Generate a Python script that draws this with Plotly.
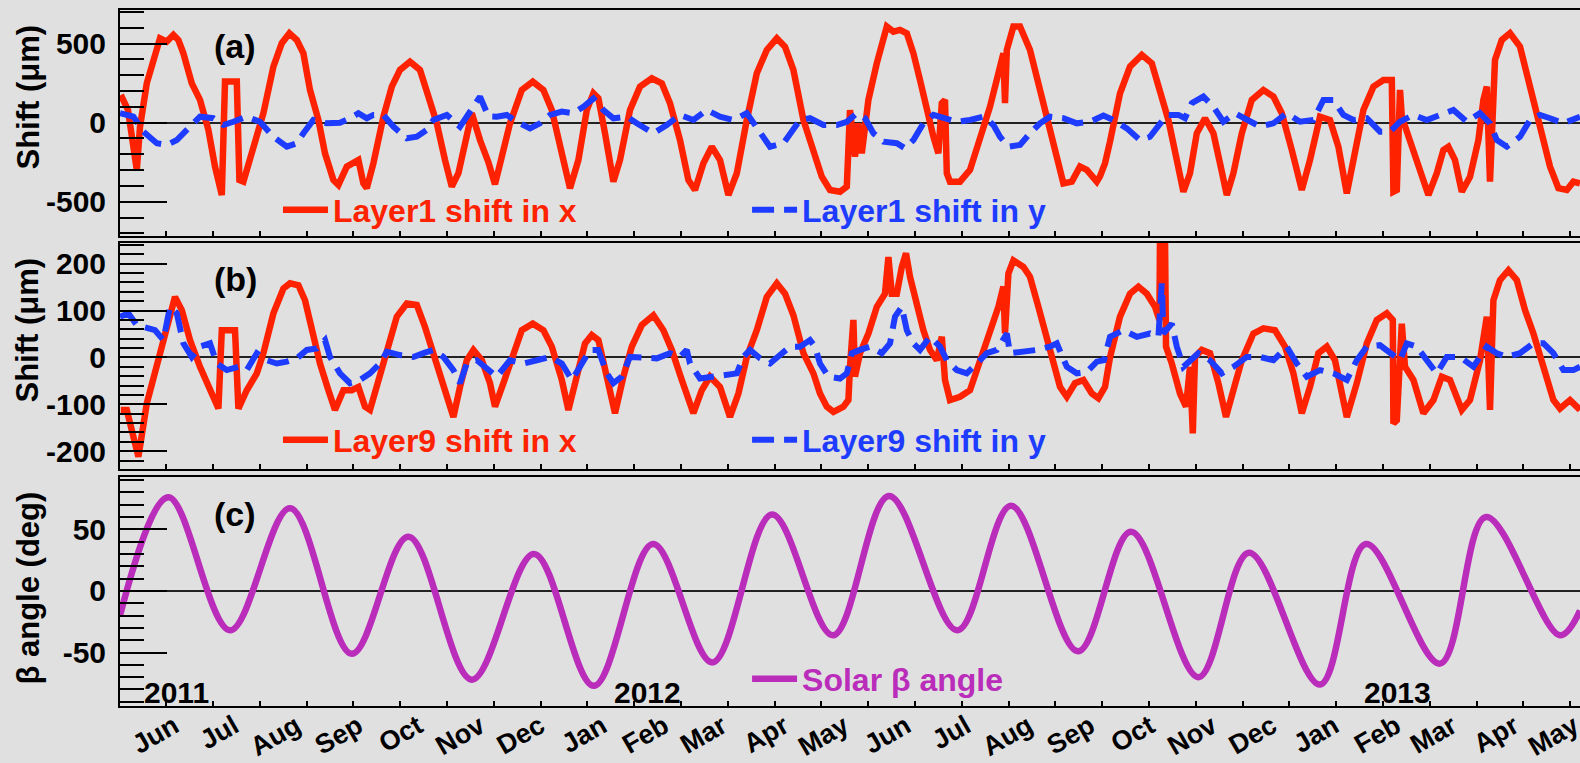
import pandas as pd
import plotly.graph_objects as go

FONT = "Liberation Sans"
BG = "#e0e0e0"
RED = "#ff2200"
BLUE = "#1e3cff"
PURPLE = "#ba2cba"

X_START = "2011-05-05"
X_END = "2013-05-04"

MONTH_TICKS = ["2011-06-01", "2011-07-01", "2011-08-01", "2011-09-01", "2011-10-01", "2011-11-01",
               "2011-12-01", "2012-01-01", "2012-02-01", "2012-03-01", "2012-04-01", "2012-05-01",
               "2012-06-01", "2012-07-01", "2012-08-01", "2012-09-01", "2012-10-01", "2012-11-01",
               "2012-12-01", "2013-01-01", "2013-02-01", "2013-03-01", "2013-04-01", "2013-05-01"]
MONTH_TEXT = ["Jun", "Jul", "Aug", "Sep", "Oct", "Nov", "Dec", "Jan", "Feb", "Mar", "Apr", "May",
              "Jun", "Jul", "Aug", "Sep", "Oct", "Nov", "Dec", "Jan", "Feb", "Mar", "Apr", "May"]
YEAR_LABELS = ["2011", "2012", "2013"]
YEAR_LABEL_DATES = ["2011-05-16", "2012-01-06", "2013-01-15"]

YA_TICKS = [-500, 0, 500]
YA_TEXT = ["-500", "0", "500"]
YB_TICKS = [-200, -100, 0, 100, 200]
YB_TEXT = ["-200", "-100", "0", "100", "200"]
YC_TICKS = [-50, 0, 50]
YC_TEXT = ["-50", "0", "50"]

# (days since X_START, value)
L1_X = [(0.4,175),(4,80),(8.4,-300),(10,-27),(13.4,250),(16.7,408),(20,534),(23.4,513),(26.7,555),(29.2,523),(31.7,439),(35.9,249),(40,144),(44.2,-46),(47.5,-278),(50.9,-458),(52.5,260),(58.4,260),(59.7,-363),(61.7,-373),(66.7,-152),(71.7,60),(76.7,355),(80.9,503),(84.7,566),(88.4,523),(91.7,439),(95,207),(99.2,17),(102.5,-194),(106.7,-363),(109.2,-394),(113.4,-278),(116.7,-257),(119.2,-236),(121.7,-384),(123.4,-415),(126.7,-257),(131.7,38),(135.9,228),(140,334),(145,386),(150,334),(154.2,165),(158.4,-4),(162.5,-236),(165.9,-405),(169.2,-320),(172.5,-110),(175.9,60),(180,-110),(184.2,-250),(187.5,-390),(191.5,-200),(195,-4),(200.9,207),(206.4,260),(211.7,207),(215.9,80),(220.9,-194),(225,-415),(229.2,-236),(233.4,80),(236.7,186),(239.2,154),(242.5,-67),(246.7,-373),(250,-236),(255,80),(260,228),(265.9,281),(270.9,249),(275,123),(280,-110),(284.2,-363),(287.5,-426),(291.7,-257),(295.9,-152),(300,-236),(304.2,-458),(308.4,-320),(313.4,17),(318.4,313),(323.4,460),(328.4,534),(332.5,481),(336.7,334),(341.7,17),(346.7,-173),(350.9,-342),(355,-426),(360,-437),(363.4,-405),(365,80),(367.5,-215),(369.2,-4),(370.9,-194),(374.2,144),(378.4,376),(383.4,608),(386.7,576),(390,587),(393.4,566),(396.7,439),(400,270),(403.4,80),(406.7,-89),(409.2,-194),(410.9,123),(412.5,144),(413.4,-320),(415,-373),(420,-373),(425,-299),(430,-110),(435,101),(439.2,313),(441.7,439),(442.5,123),(443.4,460),(446.7,608),(450,608),(455,460),(459.2,249),(463.4,38),(467.5,-194),(471.7,-384),(475.9,-373),(480,-278),(483.4,-299),(488.4,-373),(490,-340),(492.5,-257),(495,-120),(500,186),(505,355),(510.9,429),(515.9,376),(520,207),(524.2,17),(528.4,-236),(531.7,-437),(535,-320),(538.4,-67),(542.5,28),(546.7,-67),(550,-257),(553.4,-458),(556.7,-320),(560.9,-67),(565.9,144),(571.7,207),(576.7,165),(580.9,60),(585.9,-173),(590.9,-426),(595,-236),(600,38),(605,17),(609.2,-152),(613.4,-447),(617.5,-173),(621.7,80),(626.7,228),(631.7,270),(635.9,270),(636.7,-437),(638.4,-426),(640,207),(640.9,38),(645,-110),(650,-320),(654.2,-458),(658.4,-320),(661.7,-173),(664.2,-152),(667.5,-236),(670.9,-437),(675,-342),(679.2,-110),(681.7,144),(683.4,228),(685,-373),(687.5,397),(690.9,523),(695,566),(700,481),(705,228),(710,-25),(715,-278),(719.2,-415),(723.4,-426),(726.7,-373),(730,-384)]

L1_Y = [(0,60),(6.7,38),(11.7,-57),(18.4,-130),(23.4,-141),(28.4,-110),(33.4,-46),(40,38),(46.7,28),(51.7,-15),(56.7,6),(63.4,38),(70,6),(76.7,-89),(83.4,-152),(88.4,-130),(91.7,-67),(96.7,17),(103.4,-4),(110,0),(115,28),(119.2,60),(123.4,28),(126.7,49),(131.7,49),(136.7,-25),(143.4,-99),(148.4,-89),(153.4,-46),(156.7,17),(163.4,49),(170,-25),(176.7,101),(180,165),(184.2,40),(188.4,38),(193.4,49),(198.4,6),(205,-36),(210,-4),(215,49),(220.9,70),(226.7,60),(231.7,101),(236.7,154),(241.7,80),(246.7,28),(253.4,38),(258.4,-4),(266.7,-67),(273.4,-15),(280,49),(286.7,17),(293.4,80),(300,38),(306.7,17),(313.4,60),(318.4,-36),(325,-152),(331.7,-130),(336.7,-46),(340,17),(345,28),(351.7,-15),(358.4,-15),(363.4,6),(368.4,60),(372.5,28),(376.7,-67),(381.7,-120),(388.4,-130),(392.5,-162),(396.7,-110),(401.7,-4),(406.7,49),(411.7,28),(418.4,6),(425,17),(431.7,38),(436.7,-15),(440,-89),(444.2,-152),(450,-141),(455,-67),(460,-4),(465,38),(471.7,28),(478.4,-4),(485,6),(491.7,45),(496.7,17),(503.4,-36),(510,-110),(515,-89),(518.4,-36),(523.4,49),(529.2,49),(532.5,28),(535.9,123),(541.7,165),(546.7,101),(551.7,6),(557.5,60),(563.4,17),(570,-25),(576.7,-4),(583.4,60),(590,6),(596.7,17),(601.7,144),(606.7,144),(611.7,49),(616.7,17),(623.4,28),(630,-57),(635,-57),(640,6),(646.7,49),(653.4,17),(660,49),(666.7,80),(673.4,6),(680,60),(685,-4),(688.4,-110),(693.4,-152),(700,-89),(705,17),(710,49),(715,28),(721.7,-4),(730,38)]

L9_X = [(0.4,-112),(3.4,-112),(6.7,-169),(9.2,-212),(13.4,-98),(18.4,-13),(23.4,58),(27.5,129),(30.9,101),(35,37),(40,-20),(45,-70),(49.2,-109),(50.9,58),(57.5,58),(59.2,-109),(63.4,-70),(68.4,-34),(71.7,9),(76.7,94),(81.7,147),(85,158),(89.2,154),(92.5,122),(95.9,58),(100,-13),(104.2,-70),(107.5,-112),(111.7,-70),(115.9,-70),(119.2,-63),(122.5,-105),(125,-112),(128.4,-63),(133.4,16),(138.4,87),(143.4,115),(148.4,112),(152.5,65),(156.7,9),(161.7,-63),(166.7,-127),(170,-63),(173.4,-6),(176.7,16),(180.9,-6),(185,-55),(187.5,-105),(191.7,-55),(195.9,1),(200.9,58),(206.4,72),(211.7,58),(215.9,23),(220.9,-48),(224.2,-112),(228.4,-41),(232.5,30),(235.9,48),(239.2,37),(243.4,-41),(247.5,-119),(251.7,-41),(255.9,23),(260.9,69),(266.7,90),(271.7,58),(275.9,16),(280.9,-48),(286.7,-119),(290.9,-70),(295,-41),(300,-63),(305,-127),(309.2,-77),(313.4,1),(318.4,58),(323.4,129),(328.4,158),(332.5,136),(336.7,90),(341.7,9),(346.7,-34),(350,-77),(353.4,-105),(356.7,-116),(361.7,-105),(364.2,-91),(365,-20),(366.7,80),(367.5,-41),(370,9),(374.2,51),(378.4,108),(382.5,136),(384.2,214),(385.9,136),(388.4,136),(390.9,193),(393,222),(395,172),(398.4,108),(401.7,58),(405,16),(408.4,-6),(410.9,44),(412.5,-48),(415,-91),(420,-84),(425,-70),(430,-6),(435,51),(439.2,108),(441.7,151),(442.5,51),(444.2,179),(446.7,207),(451.7,193),(455,172),(459.2,108),(463.4,37),(466.7,-13),(470,-63),(473.4,-84),(477.5,-55),(481.7,-48),(485.9,-77),(489.2,-87),(492.5,-63),(495,0),(500,87),(505,136),(509.2,151),(513.4,136),(517.5,108),(519.7,80),(520,260),(522.5,260),(523,23),(525.9,-13),(530,-77),(533,-105),(535,-20),(536.4,-162),(537.5,1),(540.9,16),(545,9),(549.2,-55),(553,-127),(556.7,-70),(560.9,-6),(566.7,51),(571.7,62),(577.5,58),(582.5,23),(586.7,-34),(590.9,-119),(595,-63),(599.2,9),(603.4,23),(607.5,-6),(613.4,-127),(618.4,-55),(623.4,30),(628.4,80),(633.4,94),(636.4,80),(636.7,-141),(638.4,-134),(640.9,72),(642.5,-20),(646.7,-48),(651.7,-119),(656.7,-91),(660.9,-41),(665,-48),(670.9,-112),(675,-91),(680,-6),(683.4,87),(685,-112),(686.7,122),(690,165),(694.2,186),(698.4,165),(702.5,101),(706.7,51),(711.7,-20),(716.7,-91),(720,-109),(725,-91),(730,-112)]

L9_Y = [(0,87),(4.2,94),(8.4,69),(13.4,62),(17.5,58),(21.7,37),(25,108),(28.4,94),(31.7,30),(35.9,1),(40,23),(45,30),(48.4,-13),(53.4,-27),(59.2,-20),(63.4,-27),(68.4,9),(73.4,-6),(78.4,-13),(83.4,-9),(88.4,-2),(93.4,16),(98.4,19),(102.5,37),(105,1),(110,-34),(115,-55),(120,-48),(125,-34),(130,-13),(133.4,12),(140,5),(146.7,1),(151.7,9),(156.7,16),(161.7,1),(166.7,-27),(170,-55),(173.4,-13),(178.4,-6),(183.4,-25),(188.4,-41),(195,-6),(201.7,-13),(208.4,-6),(215,1),(220.9,-13),(225.9,-48),(230,-20),(235,16),(239.2,16),(243.4,-34),(246.7,-55),(250.9,-41),(255,1),(261.7,1),(268.4,-2),(275,9),(280,1),(283.4,16),(285,-13),(290,-45),(296.7,-41),(303.4,-38),(308.4,-34),(311.7,1),(315,16),(320,-2),(325,-13),(330,5),(335,23),(340,23),(345,37),(347.5,23),(350,-13),(354.2,-41),(360,-45),(363.4,-34),(365.9,9),(370,16),(375,23),(380.9,9),(385,30),(387.5,87),(390.9,108),(393.4,58),(396.7,30),(400,16),(405,44),(410,23),(413.4,-6),(418.4,-27),(423.4,-34),(428.4,-13),(433.4,9),(438.4,16),(443.4,51),(445,9),(451.7,12),(458.4,16),(465,23),(468.4,30),(473.4,-20),(478.4,-34),(483.4,-31),(488.4,-9),(492,-6),(495,44),(501.7,58),(508.4,44),(515,51),(519.2,44),(520.9,158),(521.7,51),(525.9,72),(528.4,23),(531.7,-20),(535,-6),(539.2,9),(545,-6),(550.9,-34),(556.7,-20),(563.4,1),(570,1),(576.7,-6),(583.4,23),(588.4,-13),(593.4,-41),(600,-27),(606.7,-34),(613.4,-48),(618.4,-6),(623.4,23),(630,26),(635,9),(640,-6),(643.4,30),(648.4,23),(653.4,-6),(658.4,-34),(663.4,1),(670,1),(676.7,-20),(683.4,23),(688.4,9),(693.4,1),(700,9),(706.7,30),(711.7,30),(716.7,9),(721.7,-27),(726.7,-27),(730,-20)]

BETA = [(0,-20),(24.2,76),(55,-32),(85,67),(115.9,-51),(144.2,44),(175.9,-72),(207,30),(236.9,-77),(266.5,38),(296.2,-58),(326,62),(356.5,-36),(384.5,77),(418.7,-32),(445.5,69),(479,-49),(505.5,48),(539.2,-70),(564.5,31),(600,-76),(623,38),(660,-59),(683,60),(720,-36),(730,-16)]


def to_xy(pts):
    base = pd.Timestamp(X_START)
    xs = [base + pd.Timedelta(days=p[0]) for p in pts]
    ys = [p[1] for p in pts]
    return xs, ys


def bold(size, color="black"):
    return dict(family=FONT, size=size, color=color, weight="bold")


fig = go.Figure()

DASH = "22px,10px"
series = [
    (L1_X, "Layer1 shift in x", RED, "solid", "x", "y", "legend", 6.5, "linear"),
    (L1_Y, "Layer1 shift in y", BLUE, DASH, "x", "y", "legend4", 6, "linear"),
    (L9_X, "Layer9 shift in x", RED, "solid", "x2", "y2", "legend2", 6.5, "linear"),
    (L9_Y, "Layer9 shift in y", BLUE, DASH, "x2", "y2", "legend5", 6, "linear"),
    (BETA, "Solar \u03b2 angle", PURPLE, "solid", "x3", "y3", "legend3", 6.5, "spline"),
]
for pts, name, color, dash, xa, ya, leg, w, shape in series:
    xs, ys = to_xy(pts)
    line = dict(color=color, width=w, dash=dash, shape=shape)
    if shape == "spline":
        line["smoothing"] = 1.0
    fig.add_trace(go.Scatter(x=xs, y=ys, name=name, mode="lines", xaxis=xa, yaxis=ya,
                             legend=leg, line=line))

minor_x = dict(ticks="inside", ticklen=5, tickwidth=1.5, tickcolor="black",
               tick0="2011-06-20 12:00", dtick=23.4 * 86400000)

xcommon = dict(type="date", range=[X_START, X_END], showline=True, linecolor="black",
               linewidth=2, mirror=True, showgrid=False, zeroline=False, minor=minor_x,
               automargin=False)

fig.update_layout(
    xaxis=dict(xcommon, anchor="y", matches="x3", showticklabels=False, ticks=""),
    xaxis2=dict(xcommon, anchor="y2", matches="x3", showticklabels=False, ticks=""),
    xaxis3=dict(xcommon, anchor="y3", tickmode="array", tickvals=MONTH_TICKS,
                ticktext=MONTH_TEXT, ticks="", tickangle=-30, tickfont=bold(27),
                ticklabelstandoff=-8, ticklabeloverflow="allow"),
)

ycommon = dict(showline=True, linecolor="black", linewidth=2, mirror=False, showgrid=False,
               zeroline=True, zerolinecolor="#222222", zerolinewidth=2,
               ticks="inside", ticklen=47, tickwidth=2, tickcolor="black",
               tickfont=bold(30), ticklabelstandoff=6, tickmode="array", automargin=False)

fig.update_layout(
    yaxis=dict(ycommon, anchor="x", domain=[0.6753, 1.0], range=[-717, 713],
               tickvals=YA_TICKS, ticktext=YA_TEXT,
               minor=dict(ticks="inside", ticklen=24, tickwidth=2, tickmode="linear",
                          tick0=0, dtick=100, tickcolor="black")),
    yaxis2=dict(ycommon, anchor="x2", domain=[0.3405, 0.6652], range=[-238, 244],
                tickvals=YB_TICKS, ticktext=YB_TEXT,
                minor=dict(ticks="inside", ticklen=24, tickwidth=2, tickmode="linear",
                           tick0=0, dtick=20, tickcolor="black")),
    yaxis3=dict(ycommon, anchor="x3", domain=[0.0, 0.329], range=[-93.4, 92.4],
                tickvals=YC_TICKS, ticktext=YC_TEXT,
                minor=dict(ticks="inside", ticklen=24, tickwidth=2, tickmode="linear",
                           tick0=0, dtick=10, tickcolor="black")),
)


def legend_box(x, y, color):
    return dict(x=x, y=y, xanchor="left", yanchor="middle", orientation="h",
                bgcolor="rgba(0,0,0,0)", borderwidth=0, font=bold(32, color), itemwidth=45)


LEG_X_LEFT = 0.1082
LEG_X_RIGHT = 0.4295
fig.update_layout(
    legend=legend_box(LEG_X_LEFT, 0.7126, RED),
    legend4=legend_box(LEG_X_RIGHT, 0.7126, BLUE),
    legend2=legend_box(LEG_X_LEFT, 0.3822, RED),
    legend5=legend_box(LEG_X_RIGHT, 0.3822, BLUE),
    legend3=legend_box(LEG_X_RIGHT, 0.0388, PURPLE),
    showlegend=True,
)

annotations = []
for ref, lab in [("y", "(a)"), ("y2", "(b)"), ("y3", "(c)")]:
    annotations.append(dict(text=lab, xref="paper", x=0.063, xanchor="left",
                            yref=ref + " domain", y=0.84, yanchor="middle",
                            showarrow=False, font=bold(34)))
for ref, lab in [("y", "Shift (\u03bcm)"), ("y2", "Shift (\u03bcm)"), ("y3", "\u03b2 angle (deg)")]:
    annotations.append(dict(text=lab, xref="paper", x=-0.063, xanchor="center",
                            yref=ref + " domain", y=1.0, yanchor="top", yshift=-13,
                            textangle=-90, showarrow=False, font=bold(31)))
for d, lab in zip(YEAR_LABEL_DATES, YEAR_LABELS):
    annotations.append(dict(text=lab, xref="x3", x=d, xanchor="left",
                            yref="y3 domain", y=0, yanchor="bottom", yshift=-5,
                            showarrow=False, font=bold(30)))

fig.update_layout(
    annotations=annotations,
    width=1580, height=763,
    margin=dict(l=120, r=0, t=10, b=57, autoexpand=False),
    paper_bgcolor=BG, plot_bgcolor=BG,
    font=dict(family=FONT, color="black"),
)

fig.write_html("out.html")
